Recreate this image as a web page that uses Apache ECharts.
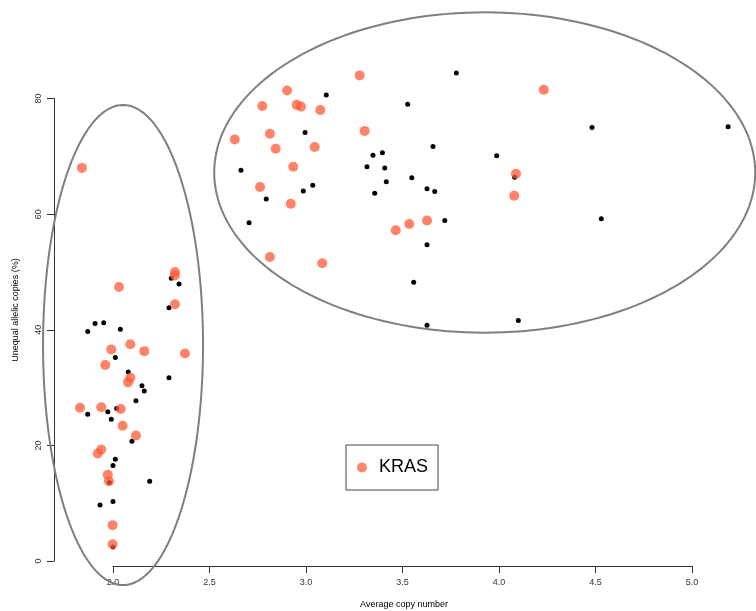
<!DOCTYPE html>
<html>
<head>
<meta charset="utf-8">
<script src="https://cdn.jsdelivr.net/npm/echarts@6/dist/echarts.min.js"></script>
<style>
  html, body { margin: 0; padding: 0; background: #fff; }
  #chart { width: 756px; height: 611px; }
</style>
</head>
<body>
<div id="chart"></div>
<script>
// Tumours without KRAS mutation: average copy number vs unequal allelic copies (%)
const otherCopyNumber = [
  2.290, 1.907, 1.952, 1.869, 2.038, 2.012, 2.079, 2.290, 2.150, 2.162,
  2.119, 2.019, 1.973, 1.869, 1.991, 2.098, 2.012, 2.000, 1.981, 2.190,
  1.933, 2.000, 2.000, 2.302, 2.342,
  3.105, 2.995, 2.663, 2.794, 2.986, 3.035, 2.705, 3.347, 3.396, 3.316,
  3.408, 3.416, 3.356, 3.779, 3.527, 4.482, 5.187, 3.658, 3.988, 3.548,
  3.627, 3.667, 4.081, 3.719, 4.530, 3.627, 3.558, 3.627, 4.100
];
const otherAllelic = [
  43.8, 41.1, 41.2, 39.7, 40.1, 35.2, 32.7, 31.7, 30.3, 29.4,
  27.7, 26.4, 25.8, 25.4, 24.5, 20.7, 17.6, 16.5, 13.6, 13.8,
  9.7, 10.3, 2.4, 48.9, 47.9,
  80.6, 74.1, 67.6, 62.6, 64.0, 65.0, 58.5, 70.2, 70.6, 68.2,
  68.0, 65.6, 63.6, 84.4, 79.0, 75.0, 75.1, 71.7, 70.1, 66.3,
  64.4, 63.9, 66.4, 58.9, 59.2, 54.7, 48.2, 40.8, 41.6
];

// KRAS-mutant tumours
const krasCopyNumber = [
  1.839, 2.031, 2.321, 2.321, 2.321, 2.090, 1.991, 2.162, 2.373, 1.960,
  2.090, 2.078, 1.829, 1.939, 2.040, 2.050, 2.119, 1.939, 1.921, 1.973,
  1.979, 1.998, 1.998,
  3.278, 2.902, 2.774, 2.952, 2.974, 3.074, 2.813, 2.631, 2.843, 3.045,
  3.304, 2.934, 2.762, 2.921, 3.465, 2.813, 3.084, 4.232, 4.088, 4.079,
  3.535, 3.627
];
const krasAllelic = [
  68.0, 47.4, 50.0, 49.4, 44.4, 37.5, 36.6, 36.3, 35.9, 33.9,
  31.7, 30.9, 26.5, 26.6, 26.3, 23.4, 21.7, 19.3, 18.6, 14.9,
  13.8, 6.2, 2.9,
  84.0, 81.4, 78.7, 78.9, 78.6, 78.0, 73.9, 72.9, 71.3, 71.6,
  74.4, 68.2, 64.7, 61.8, 57.2, 52.6, 51.5, 81.5, 67.0, 63.2,
  58.3, 58.9
];

// Cluster outlines (centre and semi-axes in data units)
const clusterCenterX = [2.052, 3.926];
const clusterCenterY = [37.36, 67.2];
const clusterRadiusX = [0.4145, 1.4016];
const clusterRadiusY = [41.52, 27.71];

// Axis ticks
const xTickMin = 2.0, xTickMax = 5.0, xTickStep = 0.5;
const yTickMin = 0, yTickMax = 80, yTickStep = 20;

const zip = (a, b) => a.map((v, i) => [v, b[i]]);
const clusters = clusterCenterX.map((cx, i) =>
  [cx, clusterCenterY[i], clusterRadiusX[i], clusterRadiusY[i]]);

const chart = echarts.init(document.getElementById('chart'), null, { renderer: 'canvas' });

const labelFont = { fontFamily: 'Liberation Sans, Arial, sans-serif', fontSize: 9, color: '#333' };

chart.setOption({
  animation: false,
  backgroundColor: '#fff',
  grid: [
    // plotting canvas
    { left: 0, top: 0, width: 756, height: 611 },
    // horizontal axis (2.0 – 5.0)
    { left: 113, width: 579, top: 466, height: 100 },
    // vertical axis (0 – 80)
    { left: 54, width: 100, top: 98.5, height: 462.5 }
  ],
  xAxis: [
    { gridIndex: 0, type: 'value', min: 1.41451, max: 5.33161, show: false },
    {
      gridIndex: 1, type: 'value', min: xTickMin, max: xTickMax, interval: xTickStep,
      position: 'bottom',
      axisLine: { show: true, lineStyle: { color: '#333', width: 1 } },
      axisTick: { show: true, length: 7, lineStyle: { color: '#333' } },
      axisLabel: Object.assign({ margin: 12, formatter: v => v.toFixed(1) }, labelFont),
      splitLine: { show: false }
    },
    { gridIndex: 2, type: 'value', min: 0, max: 1, show: false }
  ],
  yAxis: [
    { gridIndex: 0, type: 'value', min: -8.649, max: 97.04, show: false },
    { gridIndex: 1, type: 'value', min: 0, max: 1, show: false },
    {
      gridIndex: 2, type: 'value', min: yTickMin, max: yTickMax, interval: yTickStep,
      position: 'left',
      axisLine: { show: true, lineStyle: { color: '#333', width: 1 } },
      axisTick: { show: true, length: 7, lineStyle: { color: '#333' } },
      axisLabel: Object.assign({ margin: 11, rotate: 90 }, labelFont),
      splitLine: { show: false }
    }
  ],
  legend: {
    data: [{ name: 'KRAS', icon: 'circle' }],
    left: 346, top: 445,
    orient: 'vertical',
    padding: [12, 10, 12, 11],
    itemWidth: 10, itemHeight: 10,
    borderColor: '#444', borderWidth: 1,
    textStyle: { fontFamily: 'Liberation Sans, Arial, sans-serif', fontSize: 18, color: '#000', padding: [0, 0, 0, 7], lineHeight: 21 }
  },
  graphic: [
    {
      type: 'text', x: 404, y: 605,
      style: Object.assign({ text: 'Average copy number', align: 'center', verticalAlign: 'middle' }, labelFont)
    },
    {
      type: 'text', x: 16, y: 310, rotation: Math.PI / 2,
      style: Object.assign({ text: 'Unequal allelic copies (%)', align: 'center', verticalAlign: 'middle' }, labelFont)
    }
  ],
  series: [
    {
      type: 'custom',
      name: 'clusters',
      xAxisIndex: 0, yAxisIndex: 0,
      clip: false,
      silent: true,
      data: clusters,
      renderItem: function (params, api) {
        const cx = api.value(0), cy = api.value(1), rx = api.value(2), ry = api.value(3);
        const pts = [];
        const steps = 180;
        for (let k = 0; k <= steps; k++) {
          const t = (k / steps) * Math.PI * 2;
          pts.push(api.coord([cx + rx * Math.cos(t), cy + ry * Math.sin(t)]));
        }
        return {
          type: 'polyline',
          shape: { points: pts },
          style: { stroke: '#7f7f7f', lineWidth: 2, fill: null }
        };
      }
    },
    {
      type: 'scatter',
      name: 'other',
      xAxisIndex: 0, yAxisIndex: 0,
      symbol: 'circle',
      symbolSize: 5,
      itemStyle: { color: '#000', opacity: 1 },
      data: zip(otherCopyNumber, otherAllelic)
    },
    {
      type: 'scatter',
      name: 'KRAS',
      xAxisIndex: 0, yAxisIndex: 0,
      symbol: 'circle',
      symbolSize: 10,
      itemStyle: { color: 'rgba(255, 90, 55, 0.75)', opacity: 1 },
      data: zip(krasCopyNumber, krasAllelic)
    }
  ]
});
</script>
</body>
</html>
